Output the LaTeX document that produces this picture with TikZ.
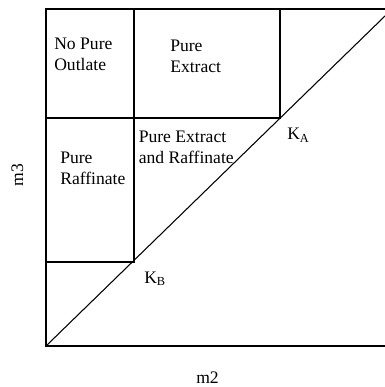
\documentclass[tikz,border=0pt]{standalone}
\usepackage{fontspec}
\setmainfont{Liberation Serif}
\begin{document}
\begin{tikzpicture}[x=0.75pt,y=-0.75pt,
  frame/.style={line width=1.5pt,line cap=rect},
  inner/.style={line width=2pt,line cap=rect},
  diag/.style={line width=0.8pt},
  lbl/.style={inner sep=0pt,anchor=base west,align=left,font=\fontsize{13.2}{15.5}\selectfont},
  klbl/.style={inner sep=0pt,anchor=base west,font=\fontsize{13.2}{15}\selectfont}]
\useasboundingbox (0,0) rectangle (385,387);
% corner coordinates
\coordinate (O) at (46,346);
\coordinate (TL) at (46,9);
\coordinate (TR) at (385,9);
\coordinate (BR) at (385,346);
\coordinate (KA) at (280,118);
\coordinate (KB) at (134,262);
\coordinate (D) at (385,16);
\coordinate (MidL) at (46,118);
\coordinate (LowL) at (46,262);
\coordinate (TopM) at (134,9);
\coordinate (TopA) at (280,9);
% frame
\draw[frame] (TR) -- (TL) -- (O) -- (BR);
\draw[inner] (TopM) -- (KB) -- (LowL);
\draw[inner] (MidL) -- (KA) -- (TopA);
\draw[diag] (O) -- (D);
% labels (base anchor = baseline of last line)
\node[lbl] (np) at (54,70) {No Pure\\Outlate};
\node[lbl] (pe) at (170,72.5) {Pure\\Extract};
\node[lbl] (per) at (138.5,163) {Pure Extract\\and Raffinate};
\node[lbl] (pr) at (60,184) {Pure\\Raffinate};
\node[klbl] (ka) at (287,139.5) {K\textsubscript{A}};
\node[klbl] (kb) at (144,283) {K\textsubscript{B}};
\node[inner sep=0pt,rotate=90,font=\fontsize{13.2}{15}\selectfont] (m3) at (17.5,175) {m3};
\node[inner sep=0pt,anchor=base,font=\fontsize{13.2}{15}\selectfont] (m2) at (207.5,383) {m2};
\end{tikzpicture}
\end{document}
